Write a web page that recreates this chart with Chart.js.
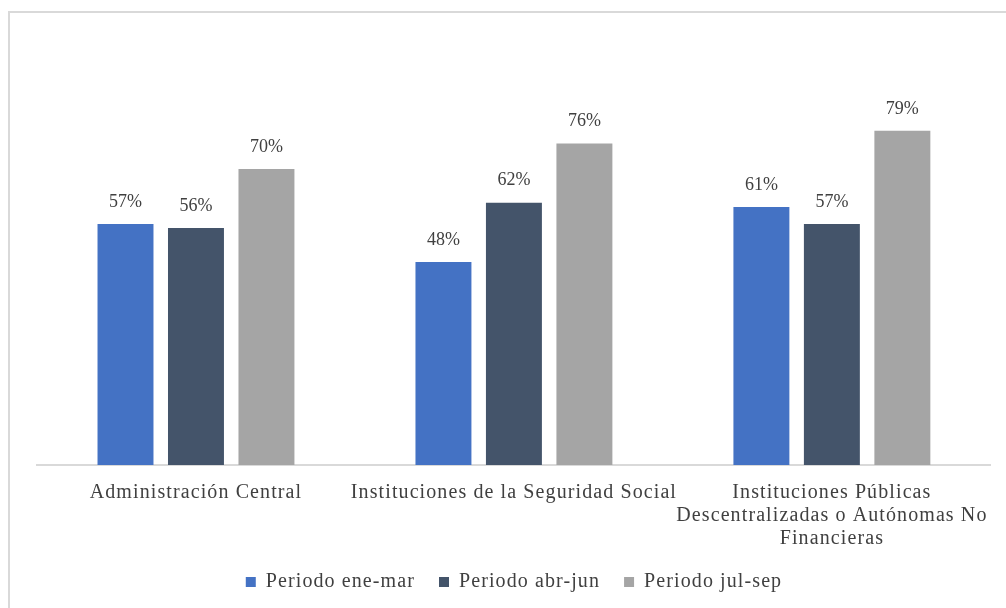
<!DOCTYPE html>
<html>
<head>
<meta charset="utf-8">
<script src="https://cdn.jsdelivr.net/npm/chart.js@4"></script>
<style>
  html, body { margin: 0; padding: 0; background: #fff; overflow: hidden; }
  #frame {
    position: absolute; left: 8px; top: 11px;
    width: 1020px; height: 620px;
    border: 2px solid #d9d9d9;
  }
  #wrap { position: absolute; left: 0; top: 0; width: 1006px; height: 608px; }
</style>
</head>
<body>
<div id="frame"></div>
<div id="wrap"><canvas id="barChart" width="1006" height="608"></canvas></div>
<script>
// Categories (third one wraps on three lines as in the original)
var categories = [
    "Administración Central",
    "Instituciones de la Seguridad Social",
    ["Instituciones Públicas", "Descentralizadas o Autónomas No", "Financieras"]
];

var seriesNames = ["Periodo ene-mar", "Periodo abr-jun", "Periodo jul-sep"];

// Percent values per period
var eneMar = [57, 48, 61];
var abrJun = [56, 62, 57];
var julSep = [70, 76, 79];

var colors = ["#4472C4", "#44546A", "#A5A5A5"];
var textColor = "#404040";
var fontFamily = "'Liberation Serif', 'DejaVu Serif', serif";

// The original font is a bit wider, so spread the letters a little
var spacing = {
    id: 'spacing',
    beforeUpdate: function(chart) { chart.ctx.letterSpacing = "1.1px"; },
    beforeDraw: function(chart) { chart.ctx.letterSpacing = "1.1px"; }
};

// Draw the value labels above each bar
var valueLabels = {
    id: 'valueLabels',
    afterDatasetsDraw: function(chart) {
        var ctx = chart.ctx;
        ctx.save();
        ctx.letterSpacing = "0px";
        ctx.fillStyle = textColor;
        ctx.font = "18px " + fontFamily;
        ctx.textAlign = "center";
        ctx.textBaseline = "middle";
        chart.data.datasets.forEach(function(ds, i) {
            var meta = chart.getDatasetMeta(i);
            meta.data.forEach(function(bar, j) {
                ctx.fillText(ds.data[j] + "%", bar.x, bar.y - 22);
            });
        });
        ctx.restore();
    }
};

var ctx = document.getElementById("barChart").getContext('2d');

var myChart = new Chart(ctx, {
    type: 'bar',
    data: {
        labels: categories,
        datasets: [
            { label: seriesNames[0], data: eneMar, backgroundColor: colors[0] },
            { label: seriesNames[1], data: abrJun, backgroundColor: colors[1] },
            { label: seriesNames[2], data: julSep, backgroundColor: colors[2] }
        ]
    },
    options: {
        responsive: false,
        animation: false,
        categoryPercentage: 0.665,
        barPercentage: 0.794,
        layout: {
            padding: { left: 37, right: 15, top: 42, bottom: 6 }
        },
        plugins: {
            tooltip: { enabled: false },
            legend: {
                position: 'bottom',
                labels: {
                    boxWidth: 10,
                    boxHeight: 10,
                    padding: 24,
                    color: textColor,
                    font: { family: fontFamily, size: 20 }
                }
            }
        },
        scales: {
            x: {
                grid: { display: false, drawTicks: false },
                border: { color: "#d9d9d9", width: 2 },
                ticks: {
                    color: textColor,
                    padding: 16,
                    maxRotation: 0,
                    autoSkip: false,
                    font: { family: fontFamily, size: 20, lineHeight: 1.15 }
                },
                afterFit: function(scale) { scale.height = 83; }
            },
            y: {
                display: false,
                min: 0,
                max: 100
            }
        }
    },
    plugins: [spacing, valueLabels]
});
</script>
</body>
</html>
